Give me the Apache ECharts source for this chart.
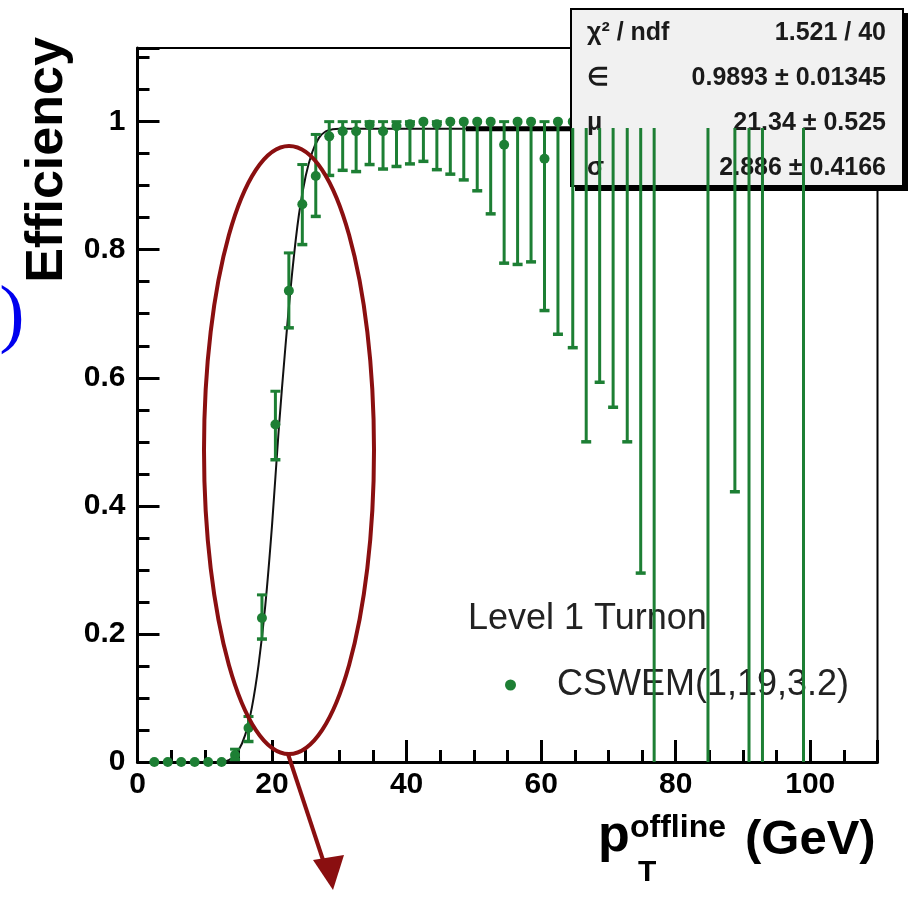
<!DOCTYPE html>
<html>
<head>
<meta charset="utf-8">
<script src="https://cdn.jsdelivr.net/npm/echarts@6/dist/echarts.min.js"></script>
<style>
  html, body { margin: 0; padding: 0; background: #fff; }
  #chart { width: 910px; height: 922px; }
</style>
</head>
<body>
<div id="chart"></div>
<script>
// turn-on points (bin centres, GeV) and efficiency with asymmetric error bounds
const xs = [2.5, 4.5, 6.5, 8.5, 10.5, 12.5, 14.5, 16.5, 18.5, 20.5, 22.5, 24.5, 26.5, 28.5,
  30.5, 32.5, 34.5, 36.5, 38.5, 40.5, 42.5, 44.5, 46.5, 48.5, 50.5, 52.5, 54.5, 56.5, 58.5,
  60.5, 62.5, 64.7, 66.7, 68.7, 70.7, 72.8, 74.8, 76.8, 84.8, 88.8, 90.9, 92.9, 99.0];
const ys = [0, 0, 0, 0, 0, 0, 0.011, 0.053, 0.225, 0.527, 0.736, 0.871, 0.915, 0.977,
  0.985, 0.985, 0.995, 0.985, 0.993, 0.996, 1.0, 0.996, 1.0, 1.0, 1.0, 1.0, 0.964, 1.0, 1.0,
  0.942, 1.0, 1.0, 1.0, 1.0, 1.0, 1.0, 1.0, 1.0, 1.0, 1.0, 1.0, 1.0, 1.0];
const errLo = [0, 0, 0, 0, 0, 0, 0.004, 0.032, 0.192, 0.472, 0.678, 0.808, 0.852, 0.916,
  0.924, 0.922, 0.933, 0.926, 0.930, 0.934, 0.938, 0.925, 0.918, 0.909, 0.892, 0.856, 0.779, 0.777, 0.781,
  0.705, 0.668, 0.647, 0.500, 0.593, 0.554, 0.500, 0.295, 0.0, 0.0, 0.422, 0.0, 0.0, 0.0];
const errHi = [0, 0, 0, 0, 0, 0, 0.02, 0.071, 0.261, 0.579, 0.795, 0.933, 0.98, 1.0,
  1.0, 1.0, 1.0, 1.0, 1.0, 1.0, 1.0, 1.0, 1.0, 1.0, 1.0, 1.0, 1.0, 1.0, 1.0,
  1.0, 1.0, 0.99, 0.99, 0.99, 0.99, 0.99, 0.99, 0.99, 0.99, 0.99, 0.99, 0.99, 0.99];

// fit curve
const fitX = [12, 13, 14, 15, 16, 17, 18, 19, 20, 21, 22, 23, 24, 25, 26, 27, 28, 29, 30, 40, 48.8];
const fitY = [0, 0.001, 0.006, 0.018, 0.042, 0.085, 0.152, 0.245, 0.37, 0.52, 0.65, 0.765, 0.855,
  0.915, 0.953, 0.975, 0.985, 0.988, 0.989, 0.989, 0.989];
const fitTailX = [48.8, 110];
const fitTailY = [0.989, 0.989];

const statRows = [
  ['\u03c7\u00b2 / ndf', '1.521 / 40'],
  ['\u2208', '0.9893 \u00b1 0.01345'],
  ['\u03bc', '21.34 \u00b1 0.525'],
  ['\u03c3', '2.886 \u00b1 0.4166'],
];

const GREEN = '#1d7f34';
const DARKRED = '#8a0f10';
const FONT = '"Liberation Sans", Arial, sans-serif';

const chart = echarts.init(document.getElementById('chart'));

const points = xs.map((x, i) => [x, ys[i], errLo[i], errHi[i]]);

function renderErrorBar(params, api) {
  const x = api.value(0), y = api.value(1), lo = api.value(2), hi = api.value(3);
  const top = api.coord([x, hi]);
  const bot = api.coord([x, lo]);
  const children = [];
  if (bot[1] - top[1] > 0.5) {
    children.push({
      type: 'line',
      shape: { x1: top[0], y1: top[1], x2: bot[0], y2: bot[1] },
      style: { stroke: GREEN, lineWidth: 3 },
    });
  }
  if (hi > y) {
    children.push({
      type: 'line',
      shape: { x1: top[0] - 5, y1: top[1], x2: top[0] + 5, y2: top[1] },
      style: { stroke: GREEN, lineWidth: 3 },
    });
  }
  if (lo < y && lo > 0) {
    children.push({
      type: 'line',
      shape: { x1: bot[0] - 5, y1: bot[1], x2: bot[0] + 5, y2: bot[1] },
      style: { stroke: GREEN, lineWidth: 3.5 },
    });
  }
  return { type: 'group', children };
}

const statTexts = [];
statRows.forEach(([label, value], i) => {
  const y = 33 + i * 45;
  statTexts.push({
    type: 'text', x: 587, y: y, z: 55,
    style: { text: label, font: 'bold 25px ' + FONT, fill: '#1a1a1a', align: 'left', verticalAlign: 'middle' },
  });
  statTexts.push({
    type: 'text', x: 886, y: y, z: 55,
    style: { text: value, font: 'bold 25px ' + FONT, fill: '#1a1a1a', align: 'right', verticalAlign: 'middle' },
  });
});

const option = {
  animation: false,
  backgroundColor: '#fff',
  grid: {
    left: 137.5, right: 32.5, top: 48, bottom: 160,
    show: true, borderColor: '#000', borderWidth: 2, backgroundColor: 'transparent',
  },
  xAxis: {
    type: 'value', min: 0, max: 110, interval: 20,
    axisLine: { lineStyle: { color: '#000', width: 3 } },
    axisTick: { inside: true, length: 22, lineStyle: { color: '#000', width: 3 } },
    minorTick: { show: true, splitNumber: 4, length: 12, lineStyle: { color: '#000', width: 3 } },
    splitLine: { show: false },
    axisLabel: { margin: 8, color: '#000', fontFamily: FONT, fontWeight: 'bold', fontSize: 30, showMaxLabel: false },
  },
  yAxis: {
    type: 'value', min: 0, max: 1.115, interval: 0.2,
    axisLine: { lineStyle: { color: '#000', width: 3 } },
    axisTick: { inside: true, length: 22, lineStyle: { color: '#000', width: 3 } },
    minorTick: { show: true, splitNumber: 4, length: 12, lineStyle: { color: '#000', width: 3 } },
    splitLine: { show: false },
    axisLabel: { margin: 12, color: '#000', fontFamily: FONT, fontWeight: 'bold', fontSize: 30, showMaxLabel: false },
  },
  legend: {
    data: ['CSWEM(1,19,3.2)'],
    left: 500, top: 662,
    icon: 'circle', itemWidth: 11, itemHeight: 11,
    textStyle: { fontFamily: FONT, fontSize: 36, color: '#222', padding: [0, 0, 0, 36] },
  },
  series: [
    {
      type: 'line', name: 'fit', z: 30,
      data: fitX.map((x, i) => [x, fitY[i]]),
      smooth: 0.3, showSymbol: false,
      lineStyle: { color: '#111', width: 2 },
    },
    {
      type: 'line', name: 'fitTail', z: 30,
      data: fitTailX.map((x, i) => [x, fitTailY[i]]),
      showSymbol: false,
      lineStyle: { color: '#000', width: 5 },
    },
    {
      type: 'scatter', name: 'CSWEM(1,19,3.2)', z: 40,
      data: points.map(p => [p[0], p[1]]),
      symbol: 'circle', symbolSize: 10,
      itemStyle: { color: GREEN, opacity: 1 },
    },
    {
      type: 'custom', name: 'errors', z: 60,
      data: points,
      renderItem: renderErrorBar,
      encode: { x: 0, y: 1 },
    },
  ],
  graphic: [
    // stats box with its shadow
    { type: 'rect', z: 50, shape: { x: 575, y: 13, width: 333, height: 178 }, style: { fill: '#000' } },
    { type: 'rect', z: 51, shape: { x: 571, y: 9, width: 332, height: 177 }, style: { fill: '#f1f1f1', stroke: '#000', lineWidth: 2 } },
    ...statTexts,
    // legend header
    {
      type: 'text', x: 468, y: 619, z: 50,
      style: { text: 'Level 1 Turnon', font: '36px ' + FONT, fill: '#222', align: 'left', verticalAlign: 'middle' },
    },
    // axis titles
    {
      type: 'text', x: 48, y: 160, rotation: Math.PI / 2, z: 50,
      style: { text: 'Efficiency', font: 'bold 52px ' + FONT, fill: '#000', align: 'center', verticalAlign: 'middle' },
    },
    {
      type: 'text', x: 598, y: 811, z: 50,
      style: { text: 'p', font: 'bold 52px ' + FONT, fill: '#000', align: 'left', verticalAlign: 'top' },
    },
    {
      type: 'text', x: 630, y: 812, z: 50,
      style: { text: 'offline', font: 'bold 32px ' + FONT, fill: '#000', align: 'left', verticalAlign: 'top' },
    },
    {
      type: 'text', x: 638, y: 858, z: 50,
      style: { text: 'T', font: 'bold 30px ' + FONT, fill: '#000', align: 'left', verticalAlign: 'top' },
    },
    {
      type: 'text', x: 745, y: 816, z: 50,
      style: { text: '(GeV)', font: 'bold 49px ' + FONT, fill: '#000', align: 'left', verticalAlign: 'top' },
    },
    // slide annotations: ellipse + arrow, stray blue bracket
    {
      type: 'ellipse', z: 70,
      shape: { cx: 289, cy: 450, rx: 85, ry: 304 },
      style: { fill: 'none', stroke: DARKRED, lineWidth: 4 },
    },
    {
      type: 'line', z: 70,
      shape: { x1: 288, y1: 754, x2: 325, y2: 866 },
      style: { stroke: DARKRED, lineWidth: 4 },
    },
    {
      type: 'polygon', z: 70,
      shape: { points: [[333, 890], [313, 860], [344, 855]] },
      style: { fill: DARKRED },
    },
    {
      type: 'text', x: 12, y: 318, z: 50,
      style: { text: ')', font: '76px "Liberation Serif", serif', fill: '#0000ee', align: 'center', verticalAlign: 'middle' },
    },
  ],
};

chart.setOption(option);
</script>
</body>
</html>
